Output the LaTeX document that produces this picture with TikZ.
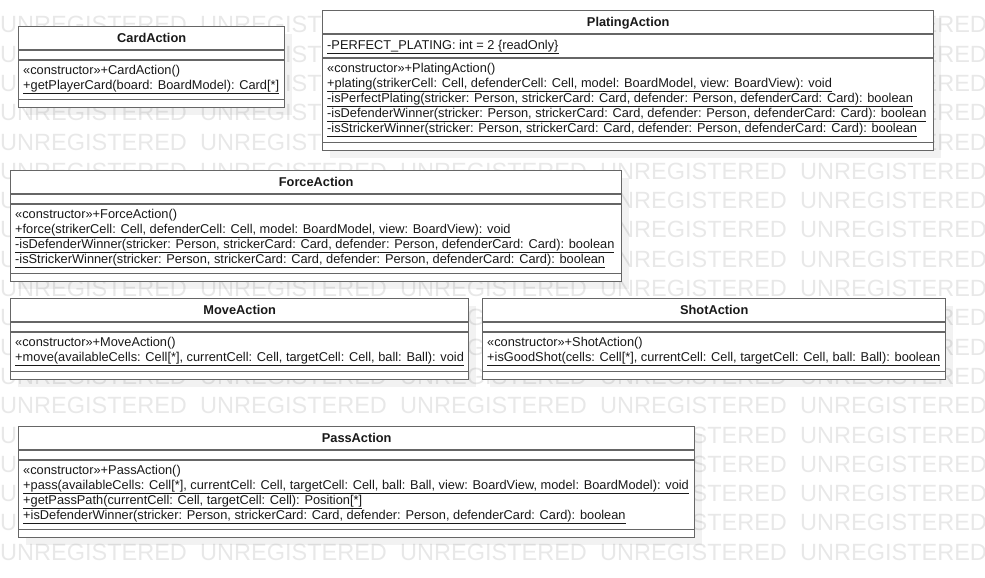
\documentclass[tikz,border=0pt]{standalone}
\usepackage{fontspec}
\setmainfont{Liberation Sans}
\usepackage{tikz}
\usetikzlibrary{shadows}

\tikzset{
  classbox/.style={draw=black!60, line width=1.4pt, fill=white, anchor=north west,
    inner sep=0pt,
    drop shadow={shadow xshift=7pt, shadow yshift=-7pt, fill=black, opacity=0.05}},
  classline/.style={draw=black!60, line width=1.4pt},
  classname/.style={anchor=center, inner sep=0pt, text height=9.3pt, text depth=0pt,
    font=\fontsize{12.8}{15}\selectfont\bfseries, text=black!90},
  members/.style={anchor=north west, inner sep=0pt, align=left,
    font=\fontsize{12.8}{15}\selectfont, text=black!90},
  watermark/.style={anchor=base west, inner sep=0pt, text=black!9,
    font=\fontsize{23.5}{24}\selectfont}
}
\newcommand{\uop}[1]{\strut\smash{\underline{#1}}}
% name, position, width, title, attribute height, number of operations, operations
\newcommand{\umlclass}[7]{%
  \node[classbox, minimum width=#3pt, minimum height={(24+#5+15*#6+8+9)*1pt}] (#1) at #2 {};
  \node[classname] (#1-name) at ([yshift=-12pt]#1.north) {#4};
  \draw[classline] ([yshift=-24pt]#1.north west) -- ([yshift=-24pt]#1.north east);
  \draw[classline] ([yshift={-(24+#5)*1pt}]#1.north west) -- ([yshift={-(24+#5)*1pt}]#1.north east);
  \draw[classline] ([yshift=9pt]#1.south west) -- ([yshift=9pt]#1.south east);
  \node[members] (#1-ops) at ([xshift=5pt,yshift={-(28+#5)*1pt}]#1.north west) {\rule{0pt}{10pt}#7};
}

\begin{document}
\begin{tikzpicture}[x=1pt,y=-1pt]
\useasboundingbox (0,0) rectangle (985,578);

% watermark behind the classes (words fully under a class are left out)
\foreach \r in {0,...,18} {
  \foreach \c in {0,...,4} {
    \pgfmathtruncatemacro{\hidden}{((\c>=2)&&(\c<=3)&&(\r<=3))
      || ((\c>=1)&&(\c<=2)&&(\r>=6)&&(\r<=8))
      || (((\c==1)||(\c==3))&&(\r>=10)&&(\r<=11))
      || ((\c>=1)&&(\c<=2)&&(\r>=14)&&(\r<=17))}
    \ifnum\hidden=0
      \node[watermark] (wm\r\c) at (\c*200, 32.8+\r*29.3) {UNREGISTERED};
    \fi
  }
}

\umlclass{cardAction}{(18,26)}{266}{CardAction}{10}{2}{%
  «constructor»+CardAction()\\
  \uop{+getPlayerCard(board: BoardModel): Card[*]}}

\umlclass{platingAction}{(322,10)}{611}{PlatingAction}{24}{5}{%
  «constructor»+PlatingAction()\\
  \uop{+plating(strikerCell: Cell, defenderCell: Cell, model: BoardModel, view: BoardView): void}\\
  \uop{-isPerfectPlating(stricker: Person, strickerCard: Card, defender: Person, defenderCard: Card): boolean}\\
  \uop{-isDefenderWinner(stricker: Person, strickerCard: Card, defender: Person, defenderCard: Card): boolean}\\
  \uop{-isStrickerWinner(stricker: Person, strickerCard: Card, defender: Person, defenderCard: Card): boolean}}
\node[members] (platingAction-attr) at ([xshift=5pt,yshift=-28.5pt]platingAction.north west)
  {\rule{0pt}{10pt}\uop{-PERFECT\_PLATING: int = 2 \{readOnly\}}};

\umlclass{forceAction}{(10,170)}{611}{ForceAction}{10}{4}{%
  «constructor»+ForceAction()\\
  \uop{+force(strikerCell: Cell, defenderCell: Cell, model: BoardModel, view: BoardView): void}\\
  \uop{-isDefenderWinner(stricker: Person, strickerCard: Card, defender: Person, defenderCard: Card): boolean}\\
  \uop{-isStrickerWinner(stricker: Person, strickerCard: Card, defender: Person, defenderCard: Card): boolean}}

\umlclass{moveAction}{(10,298)}{458}{MoveAction}{10}{2}{%
  «constructor»+MoveAction()\\
  \uop{+move(availableCells: Cell[*], currentCell: Cell, targetCell: Cell, ball: Ball): void}}

\umlclass{shotAction}{(482,298)}{463}{ShotAction}{10}{2}{%
  «constructor»+ShotAction()\\
  \uop{+isGoodShot(cells: Cell[*], currentCell: Cell, targetCell: Cell, ball: Ball): boolean}}

\umlclass{passAction}{(18,426)}{676}{PassAction}{10}{4}{%
  «constructor»+PassAction()\\
  \uop{+pass(availableCells: Cell[*], currentCell: Cell, targetCell: Cell, ball: Ball, view: BoardView, model: BoardModel): void}\\
  \uop{+getPassPath(currentCell: Cell, targetCell: Cell): Position[*]}\\
  \uop{+isDefenderWinner(stricker: Person, strickerCard: Card, defender: Person, defenderCard: Card): boolean}}
\end{tikzpicture}
\end{document}
